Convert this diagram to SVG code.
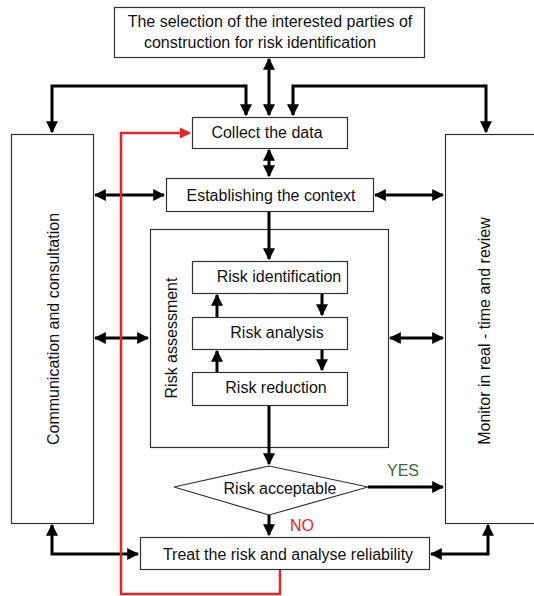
<svg xmlns="http://www.w3.org/2000/svg" width="534" height="596" viewBox="0 0 534 596">
<defs>
<marker id="ah" viewBox="0 0 10 10" refX="9" refY="5" markerWidth="4" markerHeight="4" orient="auto-start-reverse" markerUnits="strokeWidth">
<path d="M0,0 L10,5 L0,10 z" fill="#000"/>
</marker>
<marker id="ahr" viewBox="0 0 10 10" refX="9" refY="5" markerWidth="4.5" markerHeight="4.5" orient="auto-start-reverse" markerUnits="strokeWidth">
<path d="M0,0 L10,5 L0,10 z" fill="#e8232a"/>
</marker>
<style>
.box{fill:#fff;stroke:#333;stroke-width:1.2}
.t{font-family:"Liberation Sans",Arial,sans-serif;font-size:16px;fill:#111;text-anchor:middle}
.c{fill:none;stroke:#000;stroke-width:3}
.cr{fill:none;stroke:#e8232a;stroke-width:2.5}
</style>
</defs>
<rect width="534" height="596" fill="#fff"/>
<g id="top"><rect class="box" x="114.5" y="7.5" width="310" height="50"/>
<text class="t" x="270" y="27">The selection of the interested parties of</text>
<text class="t" x="260" y="48">construction for risk identification</text></g>
<g id="comm"><rect class="box" x="11.5" y="134.5" width="82" height="389"/>
<text class="t" transform="translate(59,329) rotate(-90)">Communication and consultation</text></g>
<g id="monitor"><rect class="box" x="445.5" y="134.5" width="100" height="389"/>
<text class="t" transform="translate(490,331) rotate(-90)">Monitor in real - time and review</text></g>
<g id="collect"><rect class="box" x="192.5" y="117.5" width="155" height="31"/>
<text class="t" x="267" y="138">Collect the data</text></g>
<g id="context"><rect class="box" x="166.5" y="178.5" width="207" height="33"/>
<text class="t" x="271" y="201">Establishing the context</text></g>
<g id="assessment"><rect class="box" x="150.5" y="229.5" width="238" height="218"/>
<text class="t" transform="translate(177,338) rotate(-90)">Risk assessment</text></g>
<g id="identification"><rect class="box" x="192.5" y="261.5" width="155" height="32"/>
<text class="t" x="279" y="282">Risk identification</text></g>
<g id="analysis"><rect class="box" x="192.5" y="317.5" width="155" height="32"/>
<text class="t" x="277" y="338">Risk analysis</text></g>
<g id="reduction"><rect class="box" x="192.5" y="372.5" width="155" height="33"/>
<text class="t" x="276" y="393">Risk reduction</text></g>
<g id="acceptable"><polygon class="box" points="269,466 368,487 269,515 174,487"/>
<text class="t" x="280" y="494">Risk acceptable</text></g>
<g id="treat"><rect class="box" x="140.5" y="537.5" width="289" height="32"/>
<text class="t" x="288" y="560">Treat the risk and analyse reliability</text></g>
<g id="labels">
<text class="t" x="403" y="476" style="fill:#3a6a3a">YES</text>
<text class="t" x="290" y="531" style="fill:#e8232a;text-anchor:start">NO</text>
</g>
<g id="connectors">
<path class="c" d="M269,59 V115" marker-start="url(#ah)" marker-end="url(#ah)"/>
<path class="c" d="M52,132 V86 H246 V115" marker-start="url(#ah)" marker-end="url(#ah)"/>
<path class="c" d="M486,132 V86 H293 V115" marker-start="url(#ah)" marker-end="url(#ah)"/>
<path class="c" d="M269,150 V176" marker-start="url(#ah)" marker-end="url(#ah)"/>
<path class="c" d="M95,195 H164" marker-start="url(#ah)" marker-end="url(#ah)"/>
<path class="c" d="M375,195 H443" marker-start="url(#ah)" marker-end="url(#ah)"/>
<path class="c" d="M95,338 H148" marker-start="url(#ah)" marker-end="url(#ah)"/>
<path class="c" d="M390,338 H443" marker-start="url(#ah)" marker-end="url(#ah)"/>
<path class="c" d="M269,212 V259" marker-end="url(#ah)"/>
<path class="c" d="M217,317 V295" marker-end="url(#ah)"/>
<path class="c" d="M322,294 V315" marker-end="url(#ah)"/>
<path class="c" d="M217,372 V351" marker-end="url(#ah)"/>
<path class="c" d="M322,350 V370" marker-end="url(#ah)"/>
<path class="c" d="M269,406 V464" marker-end="url(#ah)"/>
<path class="c" d="M368,487 H443" marker-end="url(#ah)"/>
<path class="c" d="M269,515 V535" marker-end="url(#ah)"/>
<path class="c" d="M52,525 V554 H138" marker-start="url(#ah)" marker-end="url(#ah)"/>
<path class="c" d="M488,525 V554 H431" marker-start="url(#ah)" marker-end="url(#ah)"/>
<path class="cr" d="M280,570 V594 H121 V133 H190" marker-end="url(#ahr)"/>
</g>
</svg>
